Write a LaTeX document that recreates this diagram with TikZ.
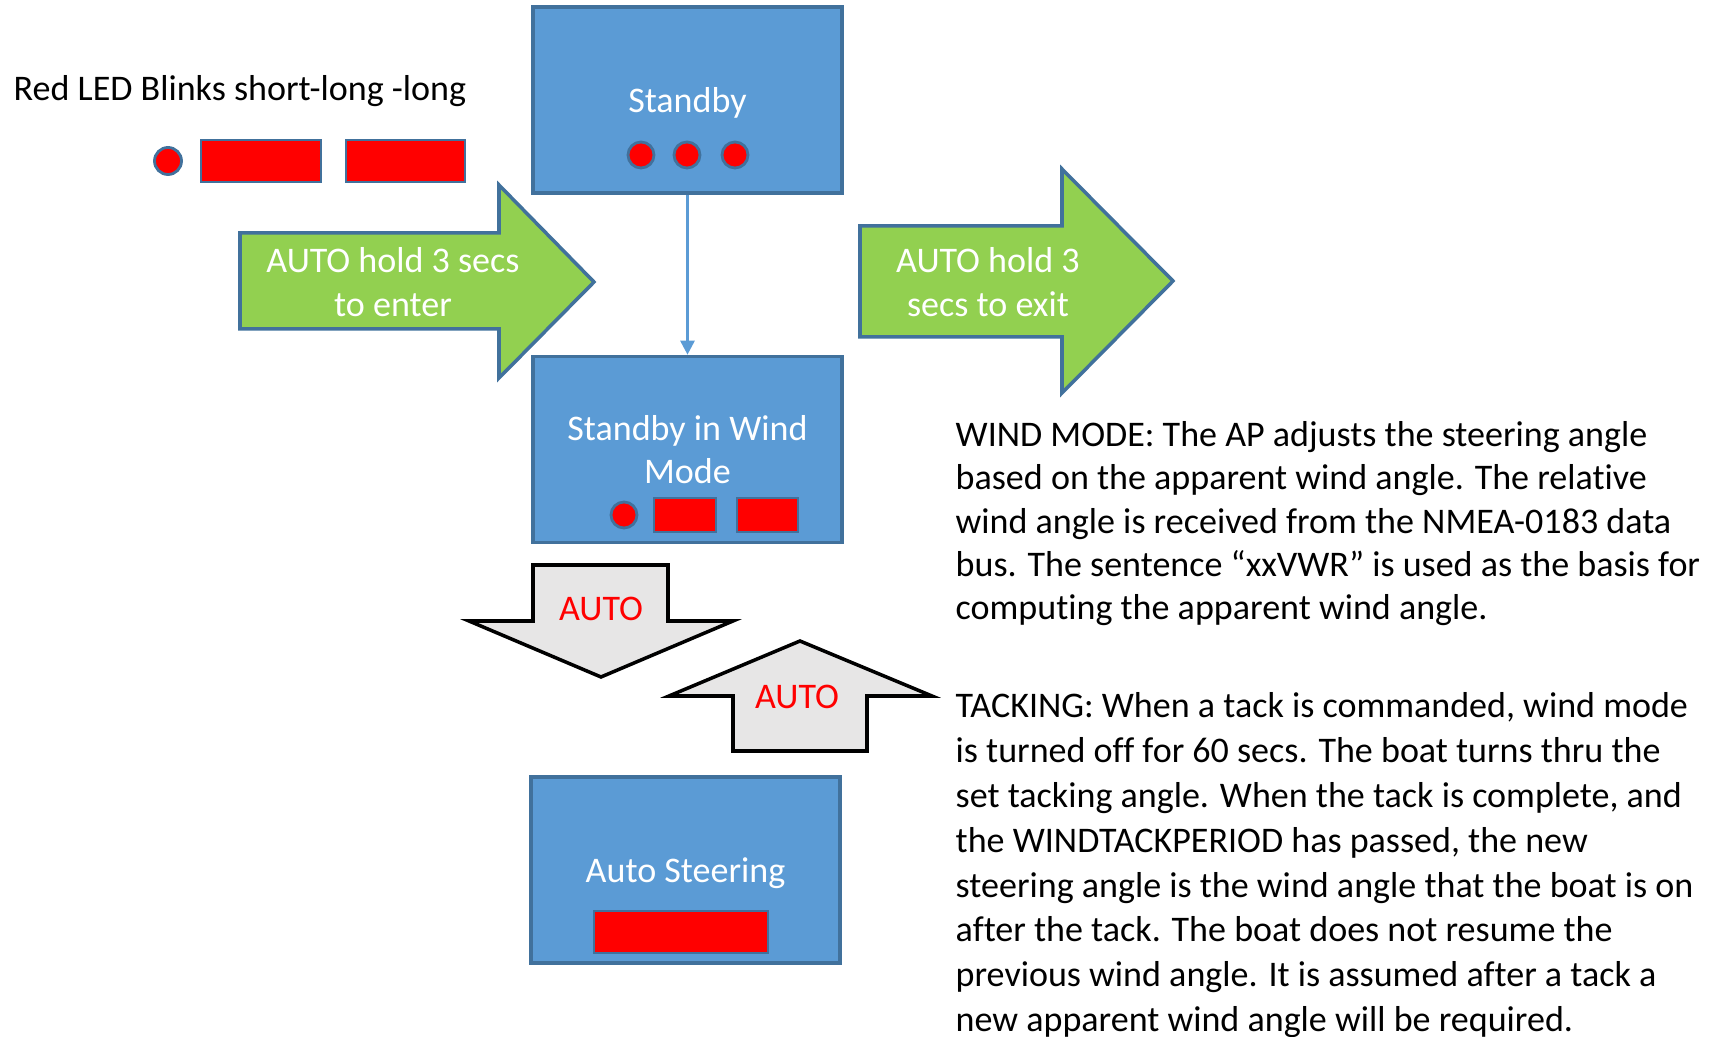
\documentclass[tikz,border=0pt]{standalone}
\usepackage{fontspec}
\setmainfont{Carlito}[Ligatures=NoCommon]
\usetikzlibrary{arrows.meta}

\definecolor{boxblue}{HTML}{5B9BD5}
\definecolor{edgeblue}{HTML}{41719C}
\definecolor{ledred}{HTML}{FF0000}
\definecolor{arrowgreen}{HTML}{92D050}
\definecolor{arrowgray}{HTML}{E7E6E6}

\newcommand{\diagfont}{\fontsize{10.25}{12.3}\selectfont}
\newcommand{\tackfont}{\fontsize{10.25}{12.75}\selectfont}

\tikzset{
  modebox/.style={draw=edgeblue, fill=boxblue, line width=1pt,
    minimum width=3.09cm, minimum height=1.86cm, inner sep=0pt,
    text depth=0pt, text=white, align=center, font=\diagfont},
  led/.style={draw=edgeblue, fill=ledred, line width=0.8pt},
  greenarrow/.style={draw=edgeblue, fill=arrowgreen, line width=1pt},
  grayarrow/.style={draw=black, fill=arrowgray, line width=1pt},
  arrowtext/.style={text=white, align=center, inner sep=0pt, font=\diagfont},
  autotext/.style={text=ledred, inner sep=0pt, font=\diagfont},
  flow/.style={draw=boxblue, line width=0.8pt, -{Triangle[width=4pt,length=4pt]}},
  note/.style={align=left, anchor=north west, inner sep=0pt},
}

\begin{document}
\begin{tikzpicture}[x=0.01cm, y=-0.01cm]
    \useasboundingbox (0,0) rectangle (1735,1037);

    % legenda
    \node[anchor=west, inner sep=0pt, font=\diagfont] (legend) at (13,91) {Red LED Blinks short-long -long};
    \filldraw[led] (168,161) circle (0.135cm);
    \filldraw[led] (201,140) rectangle (321,182);
    \filldraw[led] (346,140) rectangle (465,182);

    % stavy
    \node[modebox] (standby) at (687.5,100) {Standby};
    \node[modebox] (windmode) at (687.5,449.5) {Standby in Wind\\Mode};
    \node[modebox] (autosteer) at (685.5,870) {Auto Steering};
    \draw[flow] (standby) -- (windmode);

    % blikani v jednotlivych stavech
    \foreach \x in {641,687,735}
        \filldraw[led] (\x,155) circle (0.13cm);
    \filldraw[led] (624,515) circle (0.13cm);
    \filldraw[led] (654,498) rectangle (716,532);
    \filldraw[led] (737,498) rectangle (798,532);
    \filldraw[led] (594,911) rectangle (768,953);

    % vstup a vystup
    \filldraw[greenarrow] (240,233) -- (499,233) -- (499,185) -- (594,282)
        -- (499,378) -- (499,329) -- (240,329) -- cycle;
    \node[arrowtext] (enter) at (393,282) {AUTO hold 3 secs\\to enter};
    \filldraw[greenarrow] (860,226) -- (1062,226) -- (1062,169) -- (1173,281)
        -- (1062,393) -- (1062,337) -- (860,337) -- cycle;
    \node[arrowtext] (exit) at (988,282) {AUTO hold 3\\secs to exit};

    % prepinani tlacitkem AUTO
    \filldraw[grayarrow] (533,565) -- (668,565) -- (668,621) -- (733,621)
        -- (601,677) -- (469,621) -- (533,621) -- cycle;
    \node[autotext] (autoin) at (601,609) {AUTO};
    \filldraw[grayarrow] (800,641) -- (932,696) -- (867,696) -- (867,751)
        -- (733,751) -- (733,696) -- (669,696) -- cycle;
    \node[autotext] (autoout) at (797,697) {AUTO};

    % popis
    \node[note, font=\diagfont] (windnote) at (955,421) {WIND MODE: The AP adjusts the steering angle\\
        based on the apparent wind angle. The relative\\
        wind angle is received from the NMEA-0183 data\\
        bus. The sentence “xxVWR” is used as the basis for\\
        computing the apparent wind angle.};
    \node[note, font=\tackfont] (tacknote) at (955,692) {TACKING: When a tack is commanded, wind mode\\
        is turned off for 60 secs. The boat turns thru the\\
        set tacking angle. When the tack is complete, and\\
        the WINDTACKPERIOD has passed, the new\\
        steering angle is the wind angle that the boat is on\\
        after the tack. The boat does not resume the\\
        previous wind angle. It is assumed after a tack a\\
        new apparent wind angle will be required.};
\end{tikzpicture}
\end{document}
